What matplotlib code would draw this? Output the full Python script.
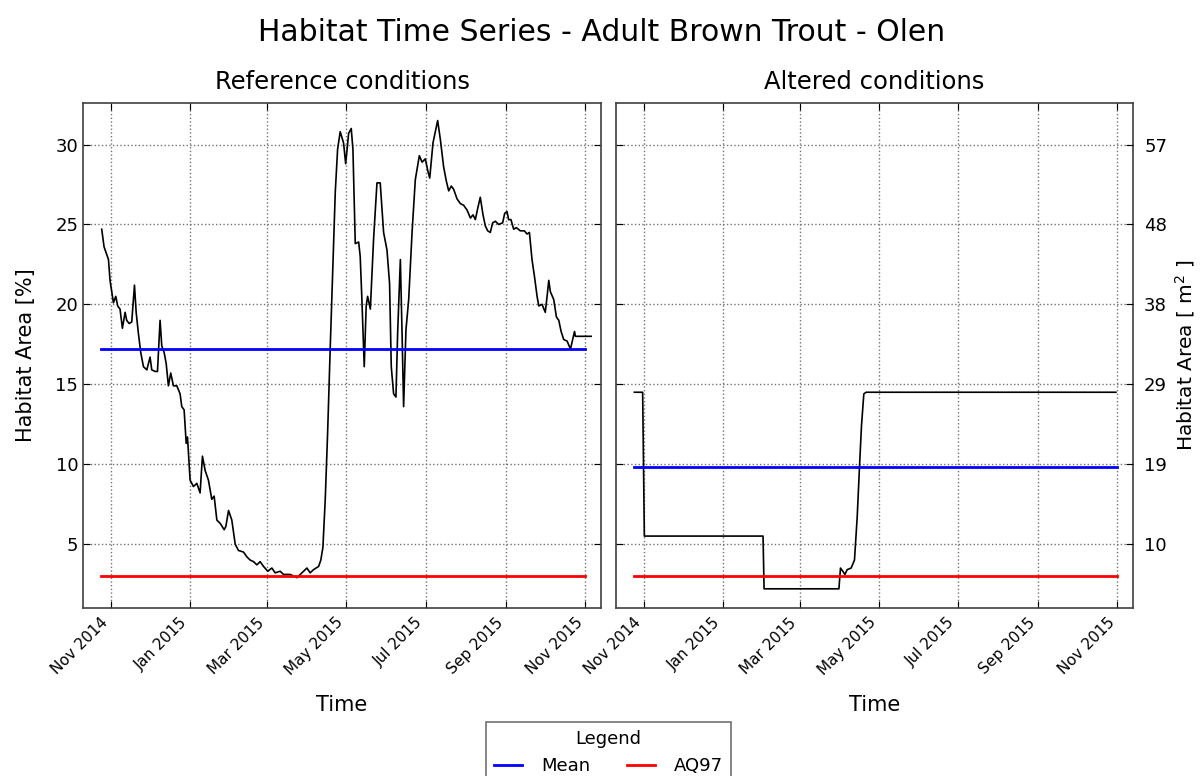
import pandas as pd
import matplotlib.pyplot as plt
import matplotlib.dates as mdates

# days counted from 1 Nov 2014, habitat area in %
ref_days = [-7.2, -5.4, -3.3, -2.0, -0.8, 1.0, 1.8, 3.6, 5.1, 6.9, 8.7, 10.8, 12.0, 13.9, 15.9,
            18.0, 19.3, 21.0, 22.8, 24.9, 27.5, 30.0, 31.3, 33.9, 35.7, 37.7, 39.0, 40.8, 42.4,
            44.1, 45.9, 48.0, 50.6, 53.1, 54.4, 56.2, 57.8, 58.8, 60.8, 63.4, 66.0, 68.5, 70.3,
            72.4, 74.9, 77.5, 79.3, 81.4, 83.9, 87.0, 88.3, 90.4, 92.9, 95.5, 98.0, 101.9, 104.5,
            107.0, 109.6, 112.2, 114.7, 117.3, 120.6, 123.7, 126.3, 130.1, 132.7, 137.8, 143.0,
            146.8, 150.7, 153.2, 155.8, 159.7, 161.4, 163.0, 164.8, 166.6, 168.6, 170.7, 172.5,
            174.3, 176.3, 178.9, 180.5, 182.8, 184.8, 186.1, 187.9, 190.5, 191.7, 193.0, 194.8,
            196.3, 197.4, 199.5, 202.0, 204.6, 207.1, 209.7, 212.3, 214.3, 215.6, 217.4, 219.2,
            220.5, 222.6, 223.9, 225.1, 226.9, 229.0, 231.6, 234.1, 237.2, 239.3, 241.8, 243.6,
            245.2, 247.7, 249.5, 251.3, 253.4, 255.9, 258.0, 259.8, 261.8, 263.6, 266.2, 268.8,
            271.3, 273.9, 276.5, 278.5, 280.3, 282.1, 284.1, 286.2, 288.0, 289.8, 291.8, 293.6,
            295.7, 298.2, 301.3, 302.9, 304.7, 305.9, 307.7, 309.8, 311.8, 314.9, 318.0, 320.1,
            321.9, 323.2, 323.9, 325.7, 327.8, 329.1, 331.6, 334.1, 335.5, 336.8, 338.0, 340.6,
            342.7, 344.5, 346.3, 348.3, 350.9, 353.5, 355.2, 356.6, 357.3, 361.2, 365.0, 369.4]
ref_area = [24.7, 23.6, 23.1, 22.8, 21.5, 20.5, 20.1, 20.5, 19.9, 19.7, 18.5, 19.5, 19.0, 18.8, 18.9,
            21.2, 19.5, 18.2, 17.0, 16.1, 15.9, 16.7, 15.9, 15.8, 15.8, 19.0, 17.4, 17.0, 16.3,
            14.9, 15.7, 14.9, 14.9, 14.4, 13.6, 13.4, 11.3, 11.7, 9.0, 8.6, 8.8, 8.2, 10.5,
            9.6, 9.0, 7.8, 8.0, 6.5, 6.3, 5.9, 6.1, 7.1, 6.5, 5.0, 4.6, 4.5, 4.2,
            4.0, 3.9, 3.7, 3.9, 3.6, 3.3, 3.5, 3.2, 3.3, 3.1, 3.1, 2.9,
            3.2, 3.5, 3.2, 3.4, 3.6, 4.0, 4.8, 7.8, 11.9, 17.2, 22.4, 27.0,
            29.7, 30.8, 30.1, 28.8, 30.7, 31.0, 29.7, 23.8, 23.9, 23.0, 20.3, 16.1,
            19.9, 20.5, 19.7, 24.1, 27.6, 27.6, 24.5, 23.4, 21.3, 16.1, 14.4, 14.2,
            18.2, 22.8, 18.2, 13.6, 18.4, 20.3, 24.5, 27.8, 29.3, 28.9, 29.1, 28.4,
            27.9, 30.1, 30.8, 31.5, 30.3, 28.6, 27.7, 27.1, 27.4, 27.2, 26.6, 26.3,
            26.2, 25.9, 25.4, 25.6, 25.3, 26.0, 26.7, 25.6, 24.9, 24.6, 24.5, 25.1,
            25.2, 25.0, 25.1, 25.7, 25.8, 25.3, 25.3, 24.7, 24.8, 24.6, 24.6, 24.4,
            24.5, 23.4, 22.8, 21.8, 20.5, 19.9, 20.0, 19.5, 20.5, 21.5, 20.8, 20.3,
            19.2, 19.0, 18.3, 17.8, 17.7, 17.2, 17.8, 18.3, 18.0, 18.0, 18.0, 18.0]

alt_days = [-7.4, -1.0, 0.3, 91.8, 92.6, 150.3, 151.5, 153.3, 154.9, 156.7, 159.7, 162.3,
            164.4, 166.2, 167.7, 169.5, 171.3, 363.8]
alt_area = [14.5, 14.5, 5.5, 5.5, 2.2, 2.2, 3.5, 3.3, 3.1, 3.4, 3.5, 4.0,
            6.7, 9.9, 12.4, 14.4, 14.5, 14.5]

ref_mean = 17.2
alt_mean = 9.8
aq97 = 3.0
stat_days = [-7.5, 364.5]

pct_ticks = [5, 10, 15, 20, 25, 30]
m2_labels = ['10', '19', '29', '38', '48', '57']

base = pd.Timestamp('2014-11-01')
def to_dates(d):
    return base + pd.to_timedelta(d, unit='D')

plt.rcParams['font.family'] = 'DejaVu Sans'
fig = plt.figure(figsize=(12.03, 7.76), dpi=100)
ax1 = fig.add_axes([0.069, 0.2165, 0.4306, 0.6508])
ax2 = fig.add_axes([0.512, 0.2165, 0.4298, 0.6508])

xlim = (to_dates(-21.6), to_dates(377))
ylim = (1.0, 32.6)

for ax, days, area, mean, title in [(ax1, ref_days, ref_area, ref_mean, 'Reference conditions'),
                                    (ax2, alt_days, alt_area, alt_mean, 'Altered conditions')]:
    ax.plot(to_dates(days), area, color='k', lw=1.2)
    ax.plot(to_dates(stat_days), [mean, mean], color='#0000ff', lw=2, label='Mean')
    ax.plot(to_dates(stat_days), [aq97, aq97], color='#ff0000', lw=2, label='AQ97')
    ax.set_xlim(xlim)
    ax.set_ylim(ylim)
    ax.set_yticks(pct_ticks)
    ax.xaxis.set_major_locator(mdates.MonthLocator(bymonth=[1, 3, 5, 7, 9, 11]))
    ax.xaxis.set_major_formatter(mdates.DateFormatter('%b %Y'))
    ax.grid(True, color='0.45', linestyle=':', linewidth=1)
    ax.tick_params(direction='in', top=True, right=True, length=5, labelsize=13)
    ax.tick_params(axis='x', labelsize=11, pad=5)
    for lab in ax.get_xticklabels():
        lab.set_rotation(45)
        lab.set_ha('right')
    for sp in ax.spines.values():
        sp.set_color('0.25')
        sp.set_linewidth(1.2)
    ax.set_title(title, fontsize=17.5, pad=10)
    ax.set_xlabel('Time', fontsize=15, labelpad=12)

ax1.set_ylabel('Habitat Area [%]', fontsize=15, labelpad=14)
ax2.tick_params(axis='y', labelleft=False)

ax3 = ax2.twinx()
ax3.set_ylim(ylim)
ax3.set_yticks(pct_ticks)
ax3.set_yticklabels(m2_labels)
ax3.tick_params(direction='in', length=5, labelsize=13, pad=8)
for sp in ax3.spines.values():
    sp.set_visible(False)
ax3.set_ylabel('Habitat Area [ m$^2$ ]', fontsize=14.5, labelpad=4)

h, l = ax1.get_legend_handles_labels()
leg = fig.legend(h, l, loc='upper center', bbox_to_anchor=(0.506, 1 - 722 / 776), ncol=2,
                 title='Legend', fontsize=13, title_fontsize=13, fancybox=False,
                 edgecolor='0.3', handlelength=1.55, handletextpad=1.05, columnspacing=2.05,
                 borderpad=0.45, borderaxespad=0)
leg.get_frame().set_linewidth(1.2)

fig.suptitle('Habitat Time Series - Adult Brown Trout - Olen', fontsize=21.5, y=0.977)

fig.savefig('out.png', dpi=100)
